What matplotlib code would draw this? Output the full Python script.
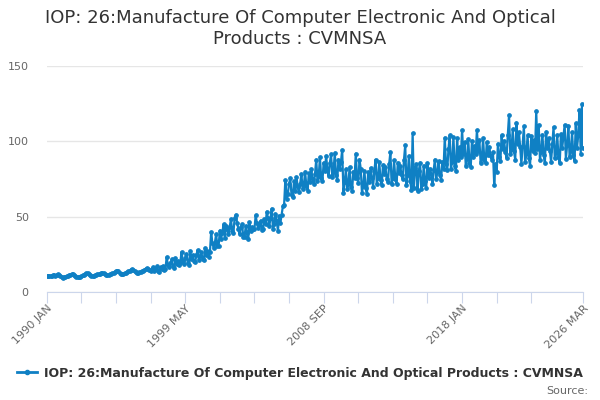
import numpy as np
import matplotlib
matplotlib.use("Agg")
import matplotlib.pyplot as plt

# monthly values, one row per year, Jan..Dec
y1990 = [10.8, 10.9, 11.0, 10.9, 11.0, 11.2, 11.3, 11.1, 11.8, 12.0, 11.6, 10.8]
y1991 = [10.1, 9.8, 9.9, 10.2, 10.6, 11.0, 11.4, 11.5, 12.0, 12.3, 11.8, 10.9]
y1992 = [10.2, 9.9, 10.0, 10.4, 10.8, 11.2, 11.6, 12.0, 12.6, 12.9, 12.4, 11.5]
y1993 = [10.9, 10.7, 10.9, 11.3, 11.6, 11.9, 12.2, 12.5, 12.9, 13.0, 12.6, 12.0]
y1994 = [11.6, 11.4, 11.5, 11.9, 12.2, 12.6, 13.0, 13.4, 14.1, 14.5, 13.9, 13.0]
y1995 = [12.4, 12.1, 12.2, 12.6, 13.0, 13.4, 13.9, 14.4, 15.1, 15.5, 15.0, 14.0]
y1996 = [13.3, 13.0, 13.1, 13.4, 13.7, 14.0, 14.5, 15.0, 15.6, 16.0, 15.6, 14.8]
y1997 = [13.9, 15.5, 16.8, 14.2, 15.8, 17.2, 14.5, 13.8, 16.9, 15.4, 17.5, 15.0]
y1998 = [15.6, 23.5, 18.0, 17.0, 19.5, 21.8, 17.2, 16.0, 22.5, 18.8, 20.6, 18.1]
y1999 = [19.5, 26.8, 21.0, 18.5, 23.0, 25.5, 19.8, 18.2, 27.5, 22.0, 24.8, 20.5]
y2000 = [20.0, 24.5, 28.0, 21.5, 23.8, 26.5, 22.0, 21.2, 29.5, 25.0, 27.2, 23.5]
y2001 = [27.0, 40.0, 32.5, 29.5, 33.0, 38.5, 31.0, 30.5, 41.0, 35.5, 39.5, 45.0]
y2002 = [36.0, 44.0, 42.0, 38.5, 43.5, 48.5, 40.5, 39.5, 49.5, 51.5, 46.0, 42.0]
y2003 = [38.5, 43.5, 45.0, 36.5, 37.0, 44.0, 39.5, 35.5, 46.5, 41.0, 43.5, 42.0]
y2004 = [42.0, 51.0, 46.0, 42.5, 44.5, 47.5, 41.5, 42.0, 48.5, 45.0, 53.5, 49.0]
y2005 = [44.0, 49.0, 55.5, 42.0, 45.0, 52.0, 47.5, 41.0, 50.5, 46.0, 51.5, 57.0]
y2006 = [58.0, 74.5, 62.0, 65.0, 72.0, 75.5, 64.5, 63.0, 73.5, 67.0, 76.5, 70.0]
y2007 = [66.5, 72.0, 78.5, 68.5, 71.0, 80.0, 70.5, 67.5, 79.0, 73.0, 81.5, 75.0]
y2008 = [72.0, 78.5, 88.0, 74.0, 77.0, 89.5, 76.0, 73.5, 86.0, 80.5, 90.5, 82.0]
y2009 = [77.0, 85.5, 91.5, 76.5, 80.0, 92.5, 78.0, 74.5, 88.0, 82.0, 86.5, 94.5]
y2010 = [66.0, 73.0, 81.5, 68.5, 72.0, 83.0, 70.0, 67.0, 80.0, 75.5, 92.0, 76.0]
y2011 = [72.5, 88.0, 82.0, 66.0, 70.5, 80.5, 69.0, 65.0, 79.5, 73.0, 82.5, 76.0]
y2012 = [70.0, 80.5, 88.0, 72.0, 76.0, 86.5, 74.5, 71.0, 84.5, 78.5, 83.0, 75.0]
y2013 = [73.0, 85.0, 93.0, 71.5, 76.0, 87.5, 75.0, 72.0, 86.0, 79.0, 84.0, 77.5]
y2014 = [75.0, 88.0, 97.5, 71.0, 78.0, 90.5, 74.0, 68.0, 105.5, 69.0, 82.5, 85.0]
y2015 = [67.0, 80.5, 86.0, 68.5, 72.0, 84.0, 73.5, 69.0, 85.5, 76.0, 82.0, 78.5]
y2016 = [72.0, 81.0, 88.0, 75.0, 79.5, 87.0, 77.5, 74.5, 86.5, 82.0, 102.5, 85.0]
y2017 = [81.0, 95.0, 104.0, 82.0, 86.5, 103.0, 84.0, 80.5, 102.0, 88.0, 96.5, 90.0]
y2018 = [107.5, 92.0, 99.5, 84.0, 88.5, 101.5, 86.0, 83.0, 100.5, 90.0, 97.0, 91.5]
y2019 = [107.5, 94.0, 101.0, 86.0, 89.0, 102.0, 88.0, 85.5, 99.5, 91.0, 96.5, 90.5]
y2020 = [88.0, 93.0, 71.0, 85.0, 80.0, 98.5, 90.0, 87.0, 104.0, 95.0, 100.5, 93.0]
y2021 = [89.0, 104.5, 117.5, 92.0, 95.0, 108.0, 93.5, 88.0, 112.5, 98.0, 106.0, 96.5]
y2022 = [85.0, 97.0, 110.0, 86.5, 91.5, 104.0, 89.0, 84.0, 103.5, 94.0, 101.0, 92.5]
y2023 = [120.0, 95.0, 111.0, 88.0, 93.0, 104.5, 91.0, 86.0, 106.5, 96.0, 102.0, 94.0]
y2024 = [86.5, 98.0, 109.5, 89.0, 92.5, 104.0, 90.0, 85.5, 105.0, 95.5, 103.5, 111.0]
y2025 = [88.5, 97.5, 110.5, 89.5, 94.0, 106.0, 91.0, 87.0, 112.0, 96.0, 104.0, 121.0]
y2026 = [92.0, 125.0, 96.0]

values = (y1990 + y1991 + y1992 + y1993 + y1994 + y1995 + y1996 + y1997 + y1998
          + y1999 + y2000 + y2001 + y2002 + y2003 + y2004 + y2005 + y2006 + y2007
          + y2008 + y2009 + y2010 + y2011 + y2012 + y2013 + y2014 + y2015 + y2016
          + y2017 + y2018 + y2019 + y2020 + y2021 + y2022 + y2023 + y2024 + y2025
          + y2026)

tick_labels = {0: "1990 JAN", 112: "1999 MAY", 224: "2008 SEP", 336: "2018 JAN", 434: "2026 MAR"}
series_name = "IOP: 26:Manufacture Of Computer Electronic And Optical Products : CVMNSA"

color = "#0f80c4"

fig = plt.figure(figsize=(6, 4), dpi=100)
ax = fig.add_axes([0.078, 0.269, 0.894, 0.566])

x = np.arange(len(values))
ax.plot(x, values, color=color, lw=1.6, marker="o", markersize=2.4, zorder=3)

ax.set_xlim(0, len(values) - 1)
ax.set_ylim(0, 150)
ax.set_yticks([0, 50, 100, 150])
ax.grid(axis="y", color="#e6e6e6", lw=1)
ax.set_axisbelow(True)

for s in ["top", "right", "left"]:
    ax.spines[s].set_visible(False)
ax.spines["bottom"].set_color("#ccd6eb")

xt = list(range(0, 393, 28)) + [len(values) - 1]
ax.set_xticks(xt)
ax.set_xticklabels([tick_labels.get(t, "") for t in xt], rotation=45,
                   ha="right", va="top", rotation_mode="anchor",
                   fontsize=8, color="#666666")
ax.tick_params(axis="x", length=8, color="#ccd6eb", pad=0)
ax.tick_params(axis="y", length=0, labelsize=8, labelcolor="#666666", pad=13)

fig.text(0.5, 0.978, "IOP: 26:Manufacture Of Computer Electronic And Optical\nProducts : CVMNSA",
         ha="center", va="top", fontsize=13, color="#333333", linespacing=1.2)

fig.legend([plt.Line2D([], [], color=color, lw=2, marker="o", markersize=3)],
           [series_name], loc="center", bbox_to_anchor=(0.5, 0.067),
           frameon=False, prop={"weight": "bold", "size": 9}, handlelength=1.6,
           handletextpad=0.5, labelcolor="#333333")
fig.text(0.98, 0.022, "Source:", ha="right", va="center", fontsize=8, color="#666666")

fig.savefig("out.png", dpi=100)
